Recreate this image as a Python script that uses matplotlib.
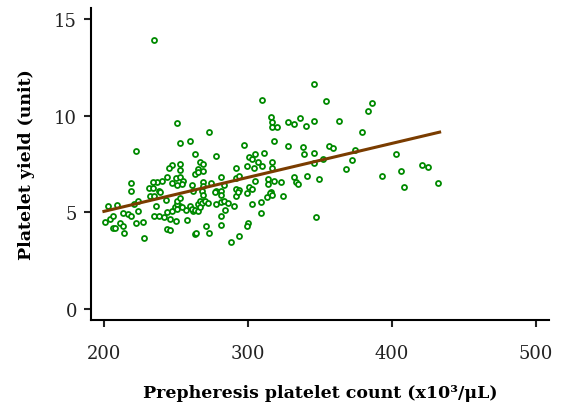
import matplotlib
matplotlib.use("Agg")
import matplotlib.pyplot as plt

count = [235, 310, 346, 354, 386, 383, 251, 273, 316, 317, 317, 320, 328, 332, 336, 340, 346, 363, 379,
         260, 253, 297, 222, 318, 328,
         338, 339, 346, 356, 359, 374, 372, 368, 352, 346, 403, 421, 425, 406, 393, 408, 432,
         332, 333, 335, 341, 349, 324, 347, 317, 317,
         263, 247, 245, 253, 253, 244, 250, 253, 255, 254, 251, 247, 240, 237, 234, 219, 219,
         231, 234, 238, 263, 261,
         278, 301, 305, 311, 303, 267, 269, 307, 299, 304, 310, 265, 265, 269, 292, 281, 292,
         294, 305, 314, 318, 323, 269, 269, 274, 283, 292, 294, 301, 303, 316, 278, 281, 268, 314,
         201, 204, 206, 203, 209, 206, 208, 211, 213, 214, 217, 219, 222, 224, 221, 224, 227, 228,
         232, 235, 239, 236, 243, 235, 238, 242, 244, 246, 244, 247, 249, 253, 250, 246, 258, 257,
         260, 262, 251, 251, 253, 254, 251, 263, 213,
         262, 269, 277, 281, 292, 293, 299, 315, 313, 317, 265, 267, 268, 270, 272, 261, 263, 265,
         267, 278, 281, 283, 286, 290, 284, 303, 309, 281, 309, 271, 281, 300, 299, 264, 273, 294, 288]

yield_units = [13.90, 10.80, 11.63, 10.75, 10.65, 10.23, 9.61, 9.15, 9.92, 9.66, 9.41, 9.41, 9.66, 9.56, 9.87, 9.46, 9.72, 9.72, 9.15,
               8.68, 8.58, 8.48, 8.17, 8.68, 8.42,
               8.37, 8.01, 8.06, 8.42, 8.32, 8.22, 7.70, 7.24, 7.75, 7.55, 8.01, 7.44, 7.34, 7.13, 6.87, 6.30, 6.51,
               6.82, 6.56, 6.46, 6.87, 6.72, 5.84, 4.75, 7.60, 7.29,
               8.01, 7.44, 7.29, 7.49, 7.18, 6.82, 6.77, 6.82, 6.61, 6.46, 6.41, 6.51, 6.61, 6.56, 6.56, 6.51, 6.10,
               6.25, 6.25, 6.10, 6.98, 6.41,
               7.91, 7.86, 8.01, 8.06, 7.75, 7.60, 7.49, 7.60, 7.39, 7.29, 7.39, 7.24, 7.08, 7.13, 7.29, 6.82, 6.77,
               6.87, 6.61, 6.72, 6.61, 6.56, 6.56, 6.36, 6.51, 6.41, 6.20, 6.15, 6.30, 6.20, 6.05, 6.10, 6.10, 6.10, 6.46,
               4.50, 4.65, 4.81, 5.32, 5.37, 4.19, 4.19, 4.44, 4.29, 3.93, 4.91, 4.81, 4.44, 5.06, 5.43, 5.58, 4.50, 3.67,
               5.84, 5.84, 6.05, 5.32, 5.63, 4.81, 4.81, 4.75, 4.13, 4.08, 5.01, 5.06, 5.27, 5.32, 4.55, 4.65, 4.60, 5.12,
               5.32, 5.06, 5.43, 5.58, 5.74, 5.27, 5.17, 3.88, 4.96,
               6.10, 5.89, 6.05, 5.89, 5.84, 6.05, 5.99, 5.99, 5.79, 5.89, 5.43, 5.58, 5.48, 5.58, 5.48, 5.17, 5.12, 5.06,
               5.27, 5.43, 5.53, 5.58, 5.48, 5.32, 5.12, 5.43, 5.53, 4.81, 4.96, 4.29, 4.34, 4.44, 4.29, 3.93, 3.93, 3.77, 3.46]

fit_x = [200, 433]
fit_y = [5.05, 9.15]

x_ticks = [200, 300, 400, 500]
y_ticks = [0, 5, 10, 15]

plt.rcParams['font.family'] = ['DejaVu Serif']

fig = plt.figure(figsize=(5.72, 4.14), dpi=100)
ax = fig.add_axes([0.159, 0.2246, 0.801, 0.7536])

ax.plot(count, yield_units, linestyle='none', marker='o', markersize=3.6,
        markerfacecolor='white', markeredgecolor='#008a00', markeredgewidth=1.3, zorder=2)
ax.plot(fit_x, fit_y, color='#7a3c00', linewidth=2.2, zorder=3)

ax.set_xlim(191, 509)
ax.set_ylim(-0.57, 15.57)
ax.set_xticks(x_ticks)
ax.set_yticks(y_ticks)
for s in ['top', 'right']:
    ax.spines[s].set_visible(False)
for s in ['left', 'bottom']:
    ax.spines[s].set_linewidth(1.5)
ax.tick_params(axis='both', direction='out', length=5, width=1.5, labelsize=13, colors='#222222')
ax.tick_params(axis='x', pad=12)
ax.tick_params(axis='y', pad=5)

ax.set_xlabel('Prepheresis platelet count (x10³/μL)', fontsize=12.5, fontweight='bold', labelpad=16)
ax.set_ylabel('Platelet yield (unit)', fontsize=12.5, fontweight='bold', labelpad=14)

fig.savefig('out.png', dpi=100)
